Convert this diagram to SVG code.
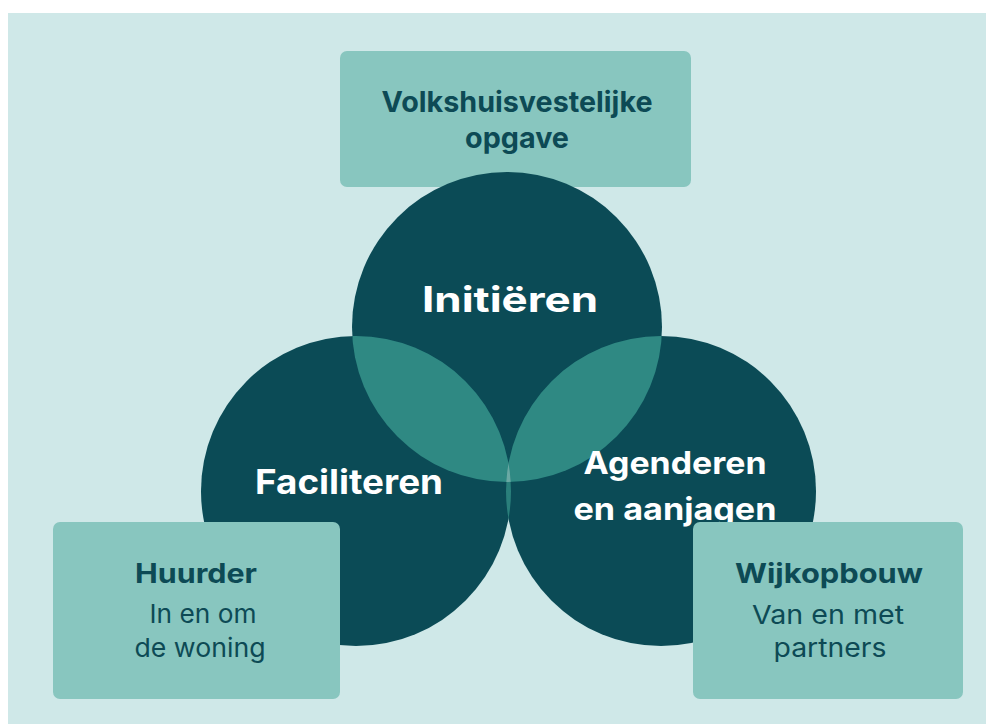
<svg xmlns="http://www.w3.org/2000/svg" width="986" height="724" viewBox="0 0 986 724">
  <style>
    .card { fill: #88c6bf; }
    .disc { fill: #0b4b56; }
    .lens { fill: #2f8983; }
    .lens-soft { fill: #2a7f7b; }
    .core { fill: #6aa9a4; }
    .head { font-family: Inter, "Noto Sans", "Liberation Sans", sans-serif; font-weight: 700; fill: #0d4a55; text-anchor: middle; }
    .sub { font-family: Inter, "Noto Sans", "Liberation Sans", sans-serif; font-weight: 400; fill: #0d4a55; text-anchor: middle; }
    .role { font-family: Inter, "Noto Sans", "Liberation Sans", sans-serif; font-weight: 700; fill: #ffffff; text-anchor: middle; }
  </style>
  <defs>
    <clipPath id="clip-top"><circle cx="507" cy="327" r="155"/></clipPath>
    <clipPath id="clip-left"><circle cx="356" cy="491" r="155"/></clipPath>
    <clipPath id="clip-right"><circle cx="661" cy="491" r="155"/></clipPath>
  </defs>

  <!-- page -->
  <rect x="0" y="0" width="986" height="724" fill="#ffffff"/>
  <rect x="8" y="13" width="978" height="711" fill="#cfe8e8"/>

  <!-- top card sits behind the discs -->
  <g id="opgave">
    <rect class="card" x="340" y="51" width="351" height="136" rx="7"/>
    <text class="head" x="517" y="112" font-size="29" textLength="271" lengthAdjust="spacingAndGlyphs">Volkshuisvestelijke</text>
    <text class="head" x="517" y="148" font-size="29" textLength="104" lengthAdjust="spacingAndGlyphs">opgave</text>
  </g>

  <!-- three overlapping discs -->
  <g id="initieren">
    <circle class="disc" cx="507" cy="327" r="155"/>
  </g>
  <g id="faciliteren">
    <circle class="disc" cx="356" cy="491" r="155"/>
  </g>
  <g id="agenderen">
    <circle class="disc" cx="661" cy="491" r="155"/>
  </g>

  <!-- overlaps -->
  <g id="overlaps">
    <g clip-path="url(#clip-top)">
      <circle class="lens" cx="356" cy="491" r="155"/>
      <circle class="lens" cx="661" cy="491" r="155"/>
    </g>
    <g clip-path="url(#clip-left)">
      <circle class="lens-soft" cx="661" cy="491" r="155"/>
    </g>
    <g clip-path="url(#clip-top)">
      <g clip-path="url(#clip-left)">
        <circle class="core" cx="661" cy="491" r="155"/>
      </g>
    </g>
  </g>

  <!-- disc labels -->
  <g id="labels">
    <text class="role" x="510" y="312" font-size="35" textLength="176" lengthAdjust="spacingAndGlyphs">Initiëren</text>
    <text class="role" x="349" y="494" font-size="34" textLength="188" lengthAdjust="spacingAndGlyphs">Faciliteren</text>
    <text class="role" x="675" y="474" font-size="31" textLength="183" lengthAdjust="spacingAndGlyphs">Agenderen</text>
    <text class="role" x="675" y="520" font-size="31" textLength="203" lengthAdjust="spacingAndGlyphs">en aanjagen</text>
  </g>

  <!-- bottom cards over the discs -->
  <g id="huurder">
    <rect class="card" x="53" y="522" width="287" height="177" rx="7"/>
    <text class="head" x="196" y="583" font-size="27" textLength="122" lengthAdjust="spacingAndGlyphs">Huurder</text>
    <text class="sub" x="203" y="623" font-size="26" textLength="107" lengthAdjust="spacingAndGlyphs">In en om</text>
    <text class="sub" x="200" y="657" font-size="26" textLength="131" lengthAdjust="spacingAndGlyphs">de woning</text>
  </g>
  <g id="wijkopbouw">
    <rect class="card" x="693" y="522" width="270" height="177" rx="7"/>
    <text class="head" x="829" y="583" font-size="27" textLength="188" lengthAdjust="spacingAndGlyphs">Wijkopbouw</text>
    <text class="sub" x="828" y="624" font-size="26" textLength="152" lengthAdjust="spacingAndGlyphs">Van en met</text>
    <text class="sub" x="830" y="657" font-size="26" textLength="113" lengthAdjust="spacingAndGlyphs">partners</text>
  </g>
</svg>
